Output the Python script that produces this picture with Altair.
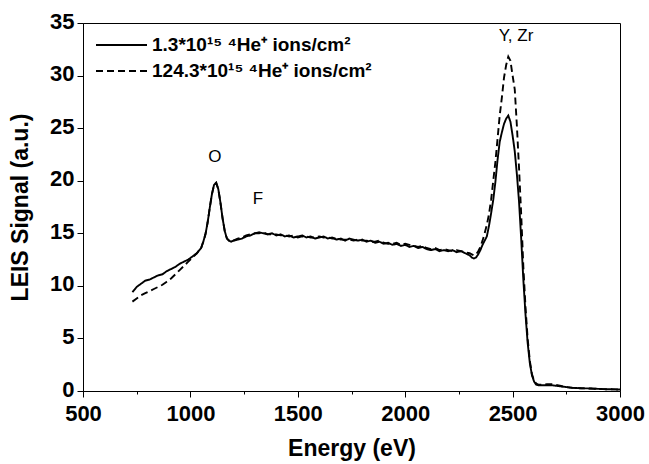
import altair as alt
import pandas as pd

energy = [730, 750, 770, 790, 810, 830, 850, 870, 890, 910, 930, 950, 970, 990, 1010, 1030, 1050,
          1060, 1070, 1080, 1090, 1100, 1110, 1120, 1130, 1140, 1150, 1160, 1170, 1180, 1190, 1200,
          1220, 1240, 1260, 1280, 1300, 1320, 1340, 1360, 1380, 1400, 1420, 1440, 1460, 1480, 1500,
          1520, 1540, 1560, 1580, 1600, 1620, 1640, 1660, 1680, 1700, 1720, 1740, 1760, 1780, 1800,
          1820, 1840, 1860, 1880, 1900, 1920, 1940, 1960, 1980, 2000, 2020, 2040, 2060, 2080, 2100,
          2120, 2140, 2160, 2180, 2200, 2220, 2240, 2260, 2280, 2300,
          2310, 2320, 2330, 2340, 2350, 2360, 2370, 2380, 2390, 2400, 2410, 2420, 2430, 2440, 2450,
          2460, 2470, 2480, 2490, 2500, 2510, 2520, 2530, 2540, 2550, 2560, 2570, 2580, 2590, 2600,
          2610, 2620,
          2640, 2660, 2680, 2700, 2720, 2740, 2760, 2780, 2800, 2820, 2840, 2860, 2880, 2900, 2920,
          2940, 2960, 2980, 3000]

signal_low = [9.4, 9.9, 10.2, 10.5, 10.6, 10.8, 11.0, 11.1, 11.4, 11.6, 11.8, 12.1, 12.3, 12.5, 12.8, 13.1, 13.6,
              14.2, 14.9, 16.0, 17.4, 18.7, 19.6, 19.8, 19.2, 17.9, 16.4, 15.2, 14.5, 14.3, 14.2, 14.3,
              14.4, 14.5, 14.7, 14.8, 15.0, 15.1, 15.0, 14.9, 15.0, 14.8, 14.9, 14.7, 14.8, 14.6, 14.7,
              14.8, 14.6, 14.7, 14.5, 14.6, 14.7, 14.5, 14.6, 14.4, 14.5, 14.3, 14.5, 14.4, 14.3, 14.4,
              14.2, 14.3, 14.1, 14.2, 14.0, 14.1, 13.9, 14.0, 13.8, 13.9, 13.7, 13.8, 13.6, 13.7, 13.5,
              13.4, 13.5, 13.3, 13.4, 13.3, 13.4, 13.2, 13.3, 13.1, 12.9,
              12.7, 12.6, 12.7, 13.0, 13.4, 13.9, 14.3, 14.7, 15.7, 16.9, 18.2, 19.9, 22.0, 23.7, 24.6,
              25.4, 25.9, 26.2, 25.6, 24.3, 22.8, 20.6, 18.0, 14.5, 10.6, 7.3, 4.6, 2.7, 1.5, 0.9,
              0.6, 0.55,
              0.55, 0.55, 0.55, 0.5, 0.45, 0.4, 0.35, 0.3, 0.28, 0.26, 0.25, 0.24, 0.22, 0.2, 0.18,
              0.17, 0.16, 0.15, 0.14]

signal_high = [8.5, 8.8, 9.1, 9.3, 9.5, 9.7, 9.9, 10.1, 10.4, 10.7, 11.1, 11.5, 11.9, 12.3, 12.7, 13.1, 13.6,
               14.2, 14.9, 16.0, 17.4, 18.7, 19.6, 19.8, 19.2, 17.9, 16.4, 15.2, 14.5, 14.3, 14.2, 14.3,
               14.5, 14.6, 14.8, 14.9, 15.0, 15.0, 15.1, 14.9, 14.9, 14.9, 14.8, 14.8, 14.7, 14.8, 14.6,
               14.7, 14.7, 14.6, 14.6, 14.7, 14.6, 14.6, 14.5, 14.5, 14.4, 14.4, 14.4, 14.3, 14.4, 14.3,
               14.3, 14.2, 14.2, 14.3, 14.1, 14.0, 14.0, 14.1, 13.9, 14.0, 13.9, 13.8, 13.7, 13.8, 13.6,
               13.5, 13.6, 13.4, 13.5, 13.4, 13.3, 13.4, 13.3, 13.2, 13.1,
               13.0, 12.9, 13.0, 13.3, 13.7, 14.3, 15.0, 15.8, 16.8, 18.2, 20.0, 21.8, 24.0, 26.2, 27.9,
               29.8, 31.0, 31.8, 31.4, 30.0, 28.7, 25.2, 21.2, 16.8, 11.8, 8.0, 5.0, 2.9, 1.6, 1.0,
               0.7, 0.6,
               0.6, 0.65, 0.65, 0.6, 0.5, 0.4, 0.35, 0.3, 0.28, 0.26, 0.25, 0.24, 0.22, 0.2, 0.18,
               0.17, 0.16, 0.15, 0.14]

series_names = ["1.3*10\u00b9\u2075 \u2074He\u207a ions/cm\u00b2",
                "124.3*10\u00b9\u2075 \u2074He\u207a ions/cm\u00b2"]

x_ticks = [500, 750, 1000, 1250, 1500, 1750, 2000, 2250, 2500, 2750, 3000]
y_ticks = [0, 2.5, 5, 7.5, 10, 12.5, 15, 17.5, 20, 22.5, 25, 27.5, 30, 32.5, 35]

ann_text = ["O", "F", "Y, Zr"]
ann_x = [1114, 1315, 2516]
ann_y = [22.3, 18.3, 33.8]

rows = []
for name, vals in zip(series_names, [signal_low, signal_high]):
    for e, v in zip(energy, vals):
        rows.append({"energy": e, "signal": v, "series": name})
df = pd.DataFrame(rows)
ann = pd.DataFrame({"text": ann_text, "energy": ann_x, "signal": ann_y})

xscale = alt.Scale(domain=[500, 3000], nice=False, zero=False)
yscale = alt.Scale(domain=[0, 35], nice=False)

lines = alt.Chart(df).mark_line(color="black", strokeWidth=1.9).encode(
    x=alt.X("energy:Q", scale=xscale,
            axis=alt.Axis(values=x_ticks, title="Energy (eV)",
                          tickSize={"condition": {"test": "datum.value % 500 === 0", "value": 6}, "value": 3},
                          labelExpr="datum.value % 500 === 0 ? datum.label : ''",
                          format="d", labelFontSize=22, labelFontWeight="bold", titleFontSize=23,
                          titleFontWeight="bold", titlePadding=13, labelPadding=6,
                          labelFlush=False, labelOverlap=False)),
    y=alt.Y("signal:Q", scale=yscale,
            axis=alt.Axis(values=y_ticks, title="LEIS Signal (a.u.)",
                          tickSize={"condition": {"test": "datum.value % 5 === 0", "value": 6}, "value": 3},
                          labelExpr="datum.value % 5 === 0 ? datum.label : ''",
                          labelFontSize=22, labelFontWeight="bold", titleFontSize=23,
                          titleFontWeight="bold", titlePadding=17, labelPadding=3,
                          labelOffset=-2, labelFlush=False, labelOverlap=False)),
    strokeDash=alt.StrokeDash("series:N",
                              scale=alt.Scale(domain=series_names, range=[[1, 0], [7, 4]]),
                              legend=alt.Legend(title=None, orient="none", legendX=12, legendY=12,
                                                symbolType="stroke", symbolSize=2601,
                                                clipHeight=20,
                                                symbolStrokeWidth=1.9, symbolStrokeColor="black",
                                                labelFontSize=19, labelFontWeight="bold",
                                                labelLimit=400, labelOffset=4, rowPadding=6)),
    order="energy:Q",
)

labels = alt.Chart(ann).mark_text(fontSize=17, color="black", baseline="middle").encode(
    x=alt.X("energy:Q", scale=xscale),
    y=alt.Y("signal:Q", scale=yscale),
    text="text:N",
)

chart = alt.layer(lines, labels).properties(
    width=537, height=368,
    padding={"left": 83, "top": 23, "right": 29, "bottom": 73},
    autosize=alt.AutoSizeParams(type="none"),
).configure(font="Liberation Sans").configure_axis(
    grid=False, domainColor="black", tickColor="black", labelColor="black",
    titleColor="black", labelFont="Liberation Sans", titleFont="Liberation Sans",
).configure_view(stroke="black", strokeWidth=1).configure_legend(
    labelFont="Liberation Sans", labelColor="black"
)

chart.save("out.html", embed_options={"renderer": "svg", "actions": False})
